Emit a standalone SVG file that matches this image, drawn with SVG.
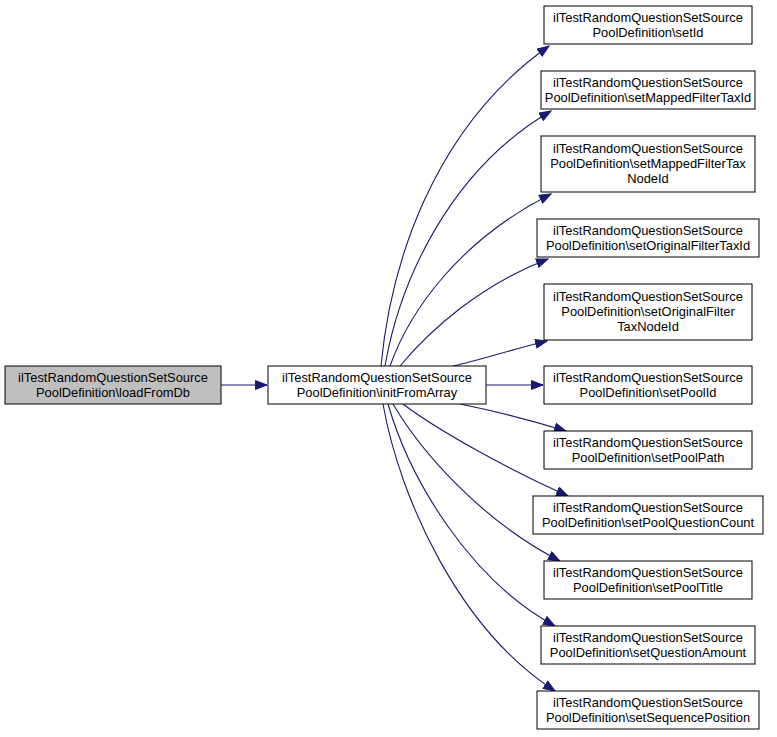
<svg xmlns="http://www.w3.org/2000/svg" width="777" height="737" viewBox="0 0 777 737">
<style>
.n rect{fill:#ffffff;stroke:#000000;stroke-width:1}
.n.cur rect{fill:#bfbfbf}
.n text{font-family:"Liberation Sans",Arial,Helvetica,sans-serif;font-size:12.9px;fill:#000000;text-anchor:middle}
.e path{fill:none;stroke:#191970;stroke-width:1.1;marker-end:url(#ah)}
</style>
<defs>
<marker id="ah" markerUnits="userSpaceOnUse" markerWidth="13" markerHeight="10" refX="12" refY="5" orient="auto">
<path d="M0.5,0.6 L12,5 L0.5,9.4 Z" fill="#191970" stroke="#191970" stroke-width="1"/>
</marker>
</defs>
<rect width="777" height="737" fill="#ffffff"/>
<g id="edges" class="e">
<path d="M221,385 L267,385"/>
<path d="M381,366 C390,270 430,130 549,46"/>
<path d="M385,366 C400,280 450,170 551,111"/>
<path d="M390,366 C410,310 460,240 551,194"/>
<path d="M400,366 C430,330 480,285 548,259"/>
<path d="M453,366 C480,360 510,350 547,341"/>
<path d="M486,385 L543,385"/>
<path d="M460,404 C490,410 530,420 566,431"/>
<path d="M403,404 C440,432 510,470 568,496"/>
<path d="M393,404 C420,450 480,520 560,561"/>
<path d="M388,404 C410,480 470,580 555,626"/>
<path d="M383,404 C400,500 460,630 555,691"/>
</g>
<g id="node_loadFromDb" class="n cur"><rect x="5" y="366" width="216" height="38"/><text x="113" y="382">ilTestRandomQuestionSetSource</text><text x="113" y="397">PoolDefinition\loadFromDb</text></g>
<g id="node_initFromArray" class="n"><rect x="268" y="366" width="218" height="38"/><text x="377" y="382">ilTestRandomQuestionSetSource</text><text x="377" y="397">PoolDefinition\initFromArray</text></g>
<g id="node_setId" class="n"><rect x="544" y="6" width="208" height="38"/><text x="648" y="22">ilTestRandomQuestionSetSource</text><text x="648" y="37">PoolDefinition\setId</text></g>
<g id="node_setMappedFilterTaxId" class="n"><rect x="541" y="71" width="214" height="38"/><text x="648" y="87">ilTestRandomQuestionSetSource</text><text x="648" y="102">PoolDefinition\setMappedFilterTaxId</text></g>
<g id="node_setMappedFilterTaxNodeId" class="n"><rect x="541" y="136" width="214" height="56"/><text x="648" y="153">ilTestRandomQuestionSetSource</text><text x="648" y="168">PoolDefinition\setMappedFilterTax</text><text x="648" y="183">NodeId</text></g>
<g id="node_setOriginalFilterTaxId" class="n"><rect x="537" y="219" width="222" height="38"/><text x="648" y="235">ilTestRandomQuestionSetSource</text><text x="648" y="250">PoolDefinition\setOriginalFilterTaxId</text></g>
<g id="node_setOriginalFilterTaxNodeId" class="n"><rect x="544" y="284" width="208" height="56"/><text x="648" y="301">ilTestRandomQuestionSetSource</text><text x="648" y="316">PoolDefinition\setOriginalFilter</text><text x="648" y="331">TaxNodeId</text></g>
<g id="node_setPoolId" class="n"><rect x="544" y="366" width="208" height="38"/><text x="648" y="382">ilTestRandomQuestionSetSource</text><text x="648" y="397">PoolDefinition\setPoolId</text></g>
<g id="node_setPoolPath" class="n"><rect x="544" y="431" width="208" height="38"/><text x="648" y="447">ilTestRandomQuestionSetSource</text><text x="648" y="462">PoolDefinition\setPoolPath</text></g>
<g id="node_setPoolQuestionCount" class="n"><rect x="533" y="496" width="230" height="38"/><text x="648" y="512">ilTestRandomQuestionSetSource</text><text x="648" y="527">PoolDefinition\setPoolQuestionCount</text></g>
<g id="node_setPoolTitle" class="n"><rect x="544" y="561" width="208" height="38"/><text x="648" y="577">ilTestRandomQuestionSetSource</text><text x="648" y="592">PoolDefinition\setPoolTitle</text></g>
<g id="node_setQuestionAmount" class="n"><rect x="541" y="626" width="214" height="38"/><text x="648" y="642">ilTestRandomQuestionSetSource</text><text x="648" y="657">PoolDefinition\setQuestionAmount</text></g>
<g id="node_setSequencePosition" class="n"><rect x="537" y="691" width="222" height="38"/><text x="648" y="707">ilTestRandomQuestionSetSource</text><text x="648" y="722">PoolDefinition\setSequencePosition</text></g>
</svg>
